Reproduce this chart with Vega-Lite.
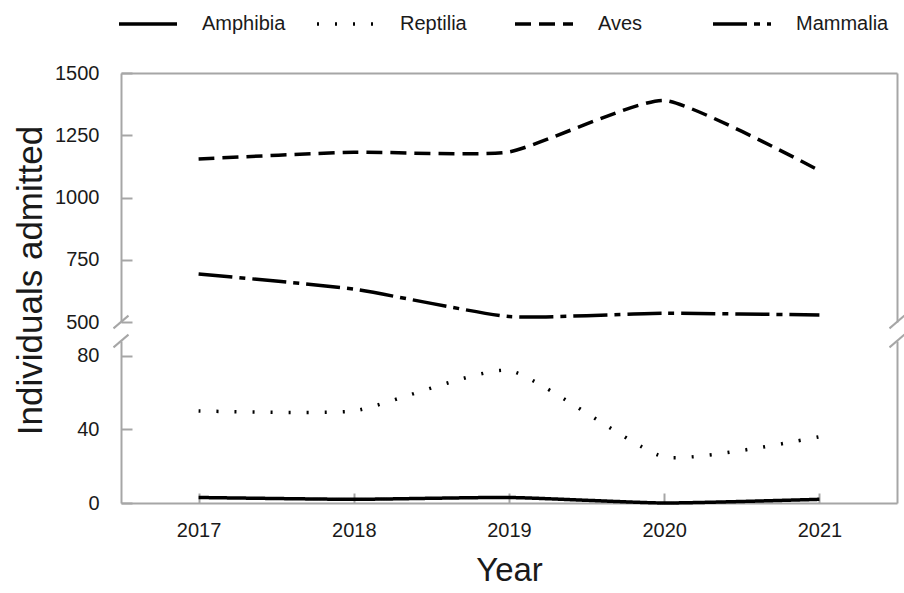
{
  "$schema": "https://vega.github.io/schema/vega-lite/v6.json",
  "padding": {"left": 12, "top": -7, "right": 0, "bottom": 0},
  "bounds": "flush",
  "spacing": 19,
  "datasets": {
    "counts": [
      {"Year": 2017, "Class": "Amphibia", "Count": 3},
      {"Year": 2018, "Class": "Amphibia", "Count": 2},
      {"Year": 2019, "Class": "Amphibia", "Count": 3},
      {"Year": 2020, "Class": "Amphibia", "Count": 0},
      {"Year": 2021, "Class": "Amphibia", "Count": 2},
      {"Year": 2017, "Class": "Reptilia", "Count": 50},
      {"Year": 2018, "Class": "Reptilia", "Count": 50},
      {"Year": 2019, "Class": "Reptilia", "Count": 72},
      {"Year": 2020, "Class": "Reptilia", "Count": 25},
      {"Year": 2021, "Class": "Reptilia", "Count": 36},
      {"Year": 2017, "Class": "Aves", "Count": 1155},
      {"Year": 2018, "Class": "Aves", "Count": 1182},
      {"Year": 2019, "Class": "Aves", "Count": 1183},
      {"Year": 2020, "Class": "Aves", "Count": 1390},
      {"Year": 2021, "Class": "Aves", "Count": 1108},
      {"Year": 2017, "Class": "Mammalia", "Count": 693},
      {"Year": 2018, "Class": "Mammalia", "Count": 632},
      {"Year": 2019, "Class": "Mammalia", "Count": 522},
      {"Year": 2020, "Class": "Mammalia", "Count": 535},
      {"Year": 2021, "Class": "Mammalia", "Count": 528}
    ],
    "one": [{"k": 1}]
  },
  "config": {
    "font": "Liberation Sans",
    "view": {"stroke": null},
    "axis": {
      "grid": false,
      "domainColor": "#a6a6a6",
      "domainWidth": 2,
      "tickColor": "#a6a6a6",
      "tickWidth": 2,
      "labelFont": "Liberation Sans",
      "labelFontSize": 20,
      "labelColor": "#1a1a1a",
      "titleFont": "Liberation Sans",
      "titleFontWeight": "normal",
      "titleColor": "#1a1a1a"
    },
    "legend": {
      "labelFont": "Liberation Sans",
      "labelFontSize": 20,
      "labelColor": "#1a1a1a"
    }
  },
  "vconcat": [
    {
      "width": 776,
      "height": 249,
      "layer": [
        {
          "data": {"name": "counts"},
          "transform": [{"filter": "datum.Class === 'Aves' || datum.Class === 'Mammalia'"}],
          "mark": {"type": "line", "color": "black", "strokeWidth": 3.5, "interpolate": "cardinal", "tension": 0.5, "strokeCap": "butt"},
          "encoding": {
            "x": {"field": "Year", "type": "quantitative", "scale": {"domain": [2016.5, 2021.5], "nice": false, "zero": false},
                  "axis": {"orient": "top", "labels": false, "ticks": false, "title": null}},
            "y": {"field": "Count", "type": "quantitative", "scale": {"domain": [500, 1500], "nice": false, "zero": false},
                  "axis": {"orient": "left", "values": [500, 750, 1000, 1250, 1500], "format": "d", "tickSize": -11, "labelPadding": 33,
                           "title": "Individuals admitted", "titleFontSize": 35, "titleAngle": -90,
                           "titleX": -80, "titleY": 207, "titleAlign": "center", "titleBaseline": "alphabetic"}},
            "strokeDash": {"field": "Class", "type": "nominal",
                           "scale": {"domain": ["Amphibia", "Reptilia", "Aves", "Mammalia"], "range": [[1, 0], [2, 16], [16, 8], [34, 7, 6, 7]]},
                           "legend": {"orient": "none", "legendX": -4, "legendY": -80, "direction": "horizontal", "columns": 4, "gridAlign": "all",
                                      "title": null, "symbolType": "stroke", "symbolSize": 3364, "symbolStrokeWidth": 3.5,
                                      "symbolStrokeColor": "black", "labelOffset": 23, "columnPadding": 15}}
          }
        },
        {
          "data": {"name": "one"},
          "mark": {"type": "point", "shape": "M-1,0.85L1,-0.85", "size": 225, "filled": false, "stroke": "#a6a6a6", "strokeWidth": 2, "opacity": 1},
          "encoding": {
            "x": {"datum": 2016.5, "type": "quantitative"},
            "y": {"datum": 500, "type": "quantitative",
                  "axis": {"orient": "right", "labels": false, "ticks": false, "title": null}}
          }
        },
        {
          "data": {"name": "one"},
          "mark": {"type": "point", "shape": "M-1,0.85L1,-0.85", "size": 225, "filled": false, "stroke": "#a6a6a6", "strokeWidth": 2, "opacity": 1},
          "encoding": {
            "x": {"datum": 2021.5, "type": "quantitative"},
            "y": {"datum": 500, "type": "quantitative", "axis": null}
          }
        }
      ],
      "resolve": {"axis": {"y": "independent"}}
    },
    {
      "width": 776,
      "height": 162,
      "layer": [
        {
          "data": {"name": "counts"},
          "transform": [{"filter": "datum.Class === 'Amphibia' || datum.Class === 'Reptilia'"}],
          "mark": {"type": "line", "color": "black", "strokeWidth": 3.5, "interpolate": "cardinal", "tension": 0.5, "strokeCap": "butt"},
          "encoding": {
            "x": {"field": "Year", "type": "quantitative", "scale": {"domain": [2016.5, 2021.5], "nice": false, "zero": false},
                  "axis": {"orient": "bottom", "values": [2017, 2018, 2019, 2020, 2021], "format": "d", "tickSize": -10, "labelPadding": 27,
                           "title": "Year", "titleFontSize": 33, "titlePadding": 14}},
            "y": {"field": "Count", "type": "quantitative", "scale": {"domain": [0, 88], "nice": false, "zero": false},
                  "axis": {"orient": "left", "values": [0, 40, 80], "format": "d", "tickSize": -11, "labelPadding": 33, "title": null}},
            "strokeDash": {"field": "Class", "type": "nominal",
                           "scale": {"domain": ["Amphibia", "Reptilia", "Aves", "Mammalia"], "range": [[1, 0], [2, 16], [16, 8], [34, 7, 6, 7]]}}
          }
        },
        {
          "data": {"name": "one"},
          "mark": {"type": "point", "shape": "M-1,0.85L1,-0.85", "size": 225, "filled": false, "stroke": "#a6a6a6", "strokeWidth": 2, "opacity": 1},
          "encoding": {
            "x": {"datum": 2016.5, "type": "quantitative"},
            "y": {"datum": 88, "type": "quantitative",
                  "axis": {"orient": "right", "labels": false, "ticks": false, "title": null}}
          }
        },
        {
          "data": {"name": "one"},
          "mark": {"type": "point", "shape": "M-1,0.85L1,-0.85", "size": 225, "filled": false, "stroke": "#a6a6a6", "strokeWidth": 2, "opacity": 1},
          "encoding": {
            "x": {"datum": 2021.5, "type": "quantitative"},
            "y": {"datum": 88, "type": "quantitative", "axis": null}
          }
        }
      ],
      "resolve": {"axis": {"y": "independent"}}
    }
  ]
}
